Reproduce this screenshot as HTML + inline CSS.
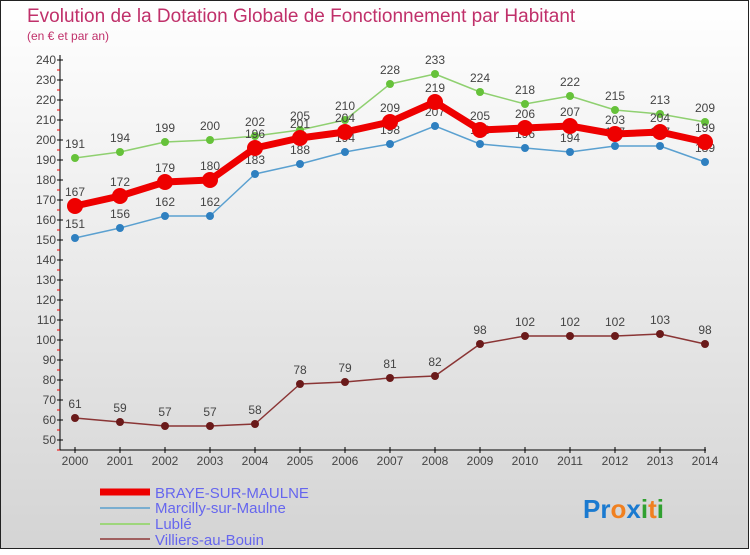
<!DOCTYPE html>
<html><head><meta charset="utf-8"><style>
body{margin:0}
#c{width:750px;height:550px;position:relative;font-family:"Liberation Sans",sans-serif;}
svg text{font-family:"Liberation Sans",sans-serif}
</style></head><body>
<div id="c">
<svg id="s" width="750" height="550" xmlns="http://www.w3.org/2000/svg">
<defs><linearGradient id="bg" x1="0" y1="0" x2="0" y2="1"><stop offset="0" stop-color="#ffffff"/><stop offset="1" stop-color="#d4d4d4"/></linearGradient></defs>
<rect x="0.5" y="0.5" width="748" height="548" fill="url(#bg)" stroke="#222"/>
<text x="27" y="22" font-size="19" fill="#c0306a">Evolution de la Dotation Globale de Fonctionnement par Habitant</text>
<text x="27" y="40" font-size="12" fill="#c0306a">(en € et par an)</text>
<g id="axes"></g><g id="series"></g>
<g>
<line x1="100" y1="492" x2="150" y2="492" stroke="#e00" stroke-width="7"/>
<text x="155" y="498" font-size="15" fill="#6666ee">BRAYE-SUR-MAULNE</text>
<line x1="100" y1="508" x2="150" y2="508" stroke="#7aaed0" stroke-width="2"/>
<text x="155" y="513" font-size="15" fill="#6666ee">Marcilly-sur-Maulne</text>
<line x1="100" y1="524" x2="150" y2="524" stroke="#9ed67c" stroke-width="2"/>
<text x="155" y="529" font-size="15" fill="#6666ee">Lublé</text>
<line x1="100" y1="539" x2="150" y2="539" stroke="#a06060" stroke-width="2"/>
<text x="155" y="545" font-size="15" fill="#6666ee">Villiers-au-Bouin</text>
</g>
<text x="583" y="518" font-size="26" font-weight="bold"><tspan fill="#1a7ad0">Pr</tspan><tspan fill="#f08020">o</tspan><tspan fill="#1a7ad0">x</tspan><tspan fill="#30a030">i</tspan><tspan fill="#f08020">t</tspan><tspan fill="#30a030">i</tspan></text>
</svg></div>
<script>
const years=[2000,2001,2002,2003,2004,2005,2006,2007,2008,2009,2010,2011,2012,2013,2014];
const yTicks=[50,60,70,80,90,100,110,120,130,140,150,160,170,180,190,200,210,220,230,240];
const braye=[167,172,179,180,196,201,204,209,219,205,206,207,203,204,199];
const marcilly=[151,156,162,162,183,188,194,198,207,198,196,194,197,197,189];
const luble=[191,194,199,200,202,205,210,228,233,224,218,222,215,213,209];
const villiers=[61,59,57,57,58,78,79,81,82,98,102,102,102,103,98];
const NS="http://www.w3.org/2000/svg";
const X=i=>75+i*45;
const Y=v=>440-(v-50)*2;
function mk(t,a,p){const e=document.createElementNS(NS,t);for(const k in a)e.setAttribute(k,a[k]);p.appendChild(e);return e;}
const ax=document.getElementById('axes');
const yl=mk('line',{x1:60,y1:55,x2:60,y2:450,stroke:'#000'},ax);


const xl=mk('line',{x1:60,y1:450,x2:706,y2:450,stroke:'#000'},ax);


yTicks.forEach(v=>{
  mk('line',{x1:57,y1:Y(v),x2:63,y2:Y(v),stroke:'#000'},ax);
  mk('line',{x1:57,y1:Y(v)+10,x2:60,y2:Y(v)+10,stroke:'#e00'},ax);
  const t=mk('text',{x:56,y:Y(v)+4,'font-size':12,'text-anchor':'end',fill:'#444'},ax);
  t.textContent=v;
  
  
});
years.forEach((y,i)=>{
  mk('line',{x1:X(i),y1:447,x2:X(i),y2:453,stroke:'#000'},ax);
  const t=mk('text',{x:X(i),y:465,'font-size':12,'text-anchor':'middle',fill:'#444'},ax);
  t.textContent=y;
  
  
});
const sg=document.getElementById('series');
function series(vals,name,lc,dc,lw,r){
  const g=mk('g',{},sg);
  
  
  const pl=mk('polyline',{points:vals.map((v,i)=>X(i)+','+Y(v)).join(' '),fill:'none',stroke:lc,'stroke-width':lw,'stroke-linejoin':'round'},g);
  
  
  vals.forEach((v,i)=>{
    const c=mk('circle',{cx:X(i),cy:Y(v),r:r,fill:dc},g);
    
    
    const t=mk('text',{x:X(i),y:Y(v)-10,'font-size':12,'text-anchor':'middle',fill:'#444'},g);
    t.textContent=v;
    
    
  });
}
series(villiers,'villiers','#8a3535','#6a1a1a',1.5,4);
series(luble,'luble','#8fd070','#66c23a',1.5,4);
series(marcilly,'marcilly','#5aa0d0','#2f80c0',1.5,4);
series(braye,'braye','#ee0000','#ee0000',7,8);
</script>
</body></html>
